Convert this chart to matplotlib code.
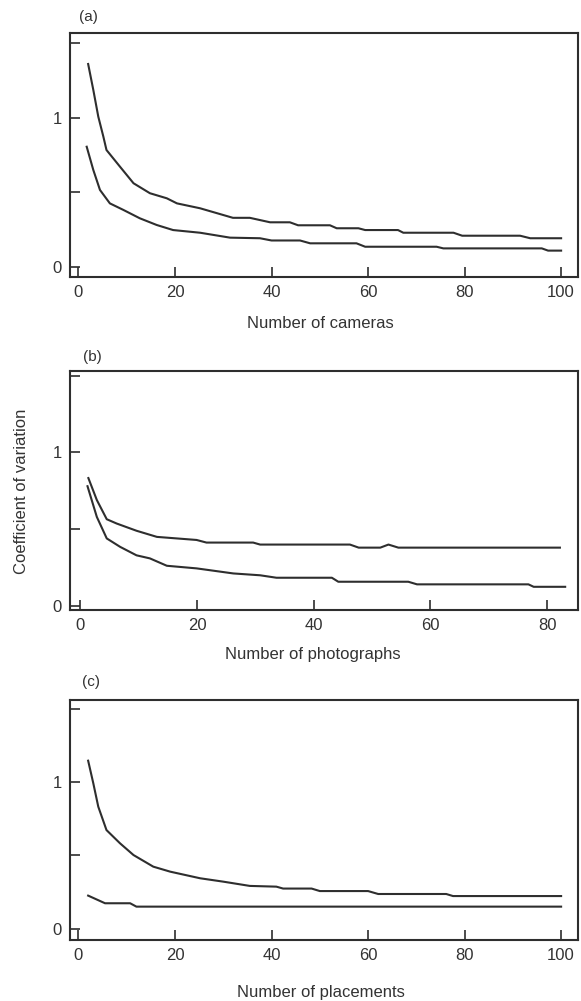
#%%
import matplotlib
matplotlib.use("Agg")
import matplotlib.pyplot as plt

plt.rcParams['font.family'] = ['Liberation Sans', 'DejaVu Sans']

# (a) cameras
cam_x_hi = [2, 3.07, 4.1, 5.15, 5.8, 8.6, 11.4, 14.8, 18.3, 20.4, 25.2, 32, 35.5, 39.7, 43.8, 45.5, 52.1, 53.5, 58, 59.4, 66.2, 67.3, 77.7, 79.5, 91.5, 93.6, 100]
cam_y_hi = [1.362, 1.188, 1.009, 0.875, 0.785, 0.673, 0.562, 0.495, 0.461, 0.427, 0.394, 0.33, 0.33, 0.30, 0.30, 0.28, 0.28, 0.26, 0.26, 0.248, 0.248, 0.23, 0.23, 0.21, 0.21, 0.193, 0.193]
cam_x_lo = [1.7, 3.07, 4.45, 6.5, 9.3, 12.7, 16.2, 19.6, 25.2, 31.4, 37.6, 40, 45.9, 48, 57.6, 59.4, 74.2, 75.6, 96, 97.3, 100]
cam_y_lo = [0.807, 0.651, 0.517, 0.427, 0.383, 0.327, 0.282, 0.248, 0.23, 0.197, 0.193, 0.178, 0.178, 0.159, 0.159, 0.136, 0.136, 0.125, 0.125, 0.11, 0.11]

# (b) photographs
pho_x_hi = [1.35, 2.8, 4.5, 6.2, 9.6, 13.1, 19.9, 21.6, 29.6, 30.8, 46.2, 47.7, 51.4, 52.8, 54.5, 82.2]
pho_y_hi = [0.833, 0.69, 0.565, 0.537, 0.49, 0.45, 0.43, 0.413, 0.413, 0.40, 0.40, 0.38, 0.38, 0.40, 0.38, 0.38]
pho_x_lo = [1.2, 2.8, 4.5, 6.8, 9.6, 11.9, 14.8, 19.9, 26.2, 30.8, 33.6, 43.1, 44.2, 56.2, 57.7, 76.8, 77.7, 83.1]
pho_y_lo = [0.78, 0.58, 0.44, 0.385, 0.33, 0.31, 0.262, 0.245, 0.212, 0.20, 0.184, 0.184, 0.158, 0.158, 0.141, 0.141, 0.125, 0.125]

# (c) placements
pla_x_hi = [2, 3.07, 4.1, 5.8, 8.6, 11.4, 15.5, 19, 25.2, 30, 35.5, 41, 42.4, 48.3, 50, 60, 62.1, 76.2, 77.6, 100]
pla_y_hi = [1.145, 0.991, 0.832, 0.673, 0.583, 0.503, 0.424, 0.39, 0.345, 0.322, 0.293, 0.288, 0.275, 0.275, 0.258, 0.258, 0.238, 0.238, 0.224, 0.224]
pla_x_lo = [2, 5.5, 10.7, 12, 100]
pla_y_lo = [0.227, 0.175, 0.175, 0.152, 0.152]

dark = '#2e2e2e'
fs = 12

fig = plt.figure(figsize=(5.81, 10.01), dpi=100)

panels = [
    # rect, xlim, ylim, xticks, xlabel, xlabel pos (fig px), tag, tag pos
    ([70/581, 1-277/1001, 508/581, 244/1001], (-1.76, 103.5), (-0.067, 1.57),
     [0, 20, 40, 60, 80, 100], 'Number of cameras', (320, 323), '(a)', (88, 17),
     (cam_x_hi, cam_y_hi), (cam_x_lo, cam_y_lo)),
    ([70/581, 1-610/1001, 508/581, 239/1001], (-1.8, 85.3), (-0.026, 1.53),
     [0, 20, 40, 60, 80], 'Number of photographs', (313, 655), '(b)', (92, 357),
     (pho_x_hi, pho_y_hi), (pho_x_lo, pho_y_lo)),
    ([70/581, 1-940/1001, 508/581, 240/1001], (-1.76, 103.5), (-0.075, 1.558),
     [0, 20, 40, 60, 80, 100], 'Number of placements', (321, 992), '(c)', (91, 682),
     (pla_x_hi, pla_y_hi), (pla_x_lo, pla_y_lo)),
]

for rect, xl, yl, xt, lab, lpos, tag, tpos, hi, lo in panels:
    ax = fig.add_axes(rect)
    ax.plot(hi[0], hi[1], color=dark, lw=1.5)
    ax.plot(lo[0], lo[1], color=dark, lw=1.5)
    ax.set_xlim(*xl)
    ax.set_ylim(*yl)
    ax.set_xticks(xt)
    ax.set_yticks([0, 0.5, 1, 1.5])
    ax.set_yticklabels(['0', '', '1', ''])
    ax.tick_params(direction='in', length=7, width=1.2, color=dark,
                   labelsize=fs, labelcolor='#333333', pad=6)
    for s in ax.spines.values():
        s.set_linewidth(1.5)
        s.set_color(dark)
    fig.text(lpos[0]/581, 1-lpos[1]/1001, lab, ha='center', va='center',
             fontsize=fs, color='#333333')
    fig.text(tpos[0]/581, 1-tpos[1]/1001, tag, ha='center', va='center',
             fontsize=fs-1, color='#333333')

fig.text(22/581, 1-491/1001, 'Coefficient of variation', rotation=90,
         ha='center', va='center', fontsize=fs, color='#333333')

fig.savefig('out.png', dpi=100)
